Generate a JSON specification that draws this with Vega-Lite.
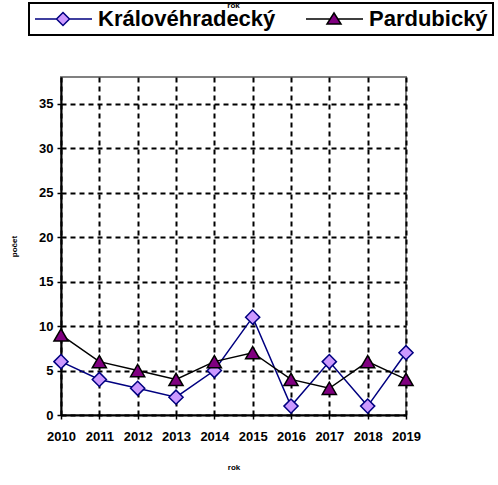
{
  "$schema": "https://vega.github.io/schema/vega-lite/v6.json",
  "width": 345,
  "height": 338,
  "autosize": "none",
  "padding": {"left": 61, "top": 77, "right": 92, "bottom": 70},
  "background": "white",
  "title": {"text": "rok", "fontSize": 8, "fontWeight": "bold", "font": "Liberation Sans", "anchor": "middle", "frame": "group", "offset": -8, "color": "black"},
  "config": {
    "font": "Liberation Sans",
    "view": {"stroke": "#808080", "strokeWidth": 2},
    "axis": {
      "labelFont": "Liberation Sans", "labelFontSize": 13, "labelFontWeight": "bold", "labelColor": "black",
      "titleFont": "Liberation Sans", "titleFontSize": 8, "titleFontWeight": "bold", "titleColor": "black",
      "domainColor": "black", "domainWidth": 2, "tickColor": "black", "tickWidth": 1.5, "tickSize": 4,
      "gridColor": "black", "gridWidth": 2, "gridDash": [5, 4], "gridOpacity": 1
    }
  },
  "data": {
    "values": [
      {"year": 2010, "series": "Královéhradecký", "count": 6},
      {"year": 2011, "series": "Královéhradecký", "count": 4},
      {"year": 2012, "series": "Královéhradecký", "count": 3},
      {"year": 2013, "series": "Královéhradecký", "count": 2},
      {"year": 2014, "series": "Královéhradecký", "count": 5},
      {"year": 2015, "series": "Královéhradecký", "count": 11},
      {"year": 2016, "series": "Královéhradecký", "count": 1},
      {"year": 2017, "series": "Královéhradecký", "count": 6},
      {"year": 2018, "series": "Královéhradecký", "count": 1},
      {"year": 2019, "series": "Královéhradecký", "count": 7},
      {"year": 2010, "series": "Pardubický", "count": 9},
      {"year": 2011, "series": "Pardubický", "count": 6},
      {"year": 2012, "series": "Pardubický", "count": 5},
      {"year": 2013, "series": "Pardubický", "count": 4},
      {"year": 2014, "series": "Pardubický", "count": 6},
      {"year": 2015, "series": "Pardubický", "count": 7},
      {"year": 2016, "series": "Pardubický", "count": 4},
      {"year": 2017, "series": "Pardubický", "count": 3},
      {"year": 2018, "series": "Pardubický", "count": 6},
      {"year": 2019, "series": "Pardubický", "count": 4}
    ]
  },
  "encoding": {
    "x": {
      "field": "year", "type": "quantitative",
      "scale": {"domain": [2010, 2019], "nice": false, "zero": false},
      "axis": {"values": [2010, 2011, 2012, 2013, 2014, 2015, 2016, 2017, 2018, 2019], "format": "d", "title": "rok", "labelPadding": 11, "titlePadding": 20, "labelFlush": false, "labelOverlap": false}
    },
    "y": {
      "field": "count", "type": "quantitative",
      "scale": {"domain": [0, 38], "nice": false},
      "axis": {"values": [0, 5, 10, 15, 20, 25, 30, 35], "title": "počet", "labelPadding": 4, "titlePadding": 20}
    }
  },
  "layer": [
    {
      "mark": {"type": "line", "strokeWidth": 1.5},
      "encoding": {
        "color": {
          "field": "series", "type": "nominal",
          "scale": {"domain": ["Královéhradecký", "Pardubický"], "range": ["#000080", "#000000"]},
          "legend": {
            "title": null,
            "orient": "none",
            "legendX": -32,
            "legendY": -74,
            "direction": "horizontal",
            "columns": 2,
            "columnPadding": 27,
            "padding": 5,
            "strokeColor": "black",
            "fillColor": "white",
            "cornerRadius": 0,
            "symbolSize": 400,
            "symbolStrokeWidth": 1.5,
            "labelOffset": 42,
            "labelFont": "Liberation Sans",
            "labelFontSize": 22,
            "labelFontWeight": "bold",
            "labelColor": "black",
            "labelLimit": 400,
            "encode": {
              "legend": {"update": {"strokeWidth": {"value": 2}}},
              "symbols": {
                "update": {
                  "shape": {"signal": "datum.value === 'Pardubický' ? 'M-1,0H1.42M2.18,0H4.7M1.8,-0.6L2.5,0.5L1.1,0.5Z' : 'M-1,0H1.15M2.45,0H4.7M1.8,-0.65L2.45,0L1.8,0.65L1.15,0Z'"},
                  "fill": {"signal": "datum.value === 'Pardubický' ? '#800080' : '#CC99FF'"},
                  "stroke": {"signal": "datum.value === 'Pardubický' ? '#000000' : '#000080'"},
                  "strokeWidth": {"value": 1.5},
                  "opacity": {"value": 1}
                }
              }
            }
          }
        }
      }
    },
    {
      "transform": [{"filter": "datum.series === 'Královéhradecký'"}],
      "mark": {"type": "point", "shape": "diamond", "filled": true, "fill": "#CC99FF", "stroke": "#000080", "strokeWidth": 1.5, "opacity": 1, "size": 200}
    },
    {
      "transform": [{"filter": "datum.series === 'Pardubický'"}],
      "mark": {"type": "point", "shape": "triangle-up", "filled": true, "fill": "#800080", "stroke": "#000000", "strokeWidth": 1.5, "opacity": 1, "size": 200}
    }
  ]
}
